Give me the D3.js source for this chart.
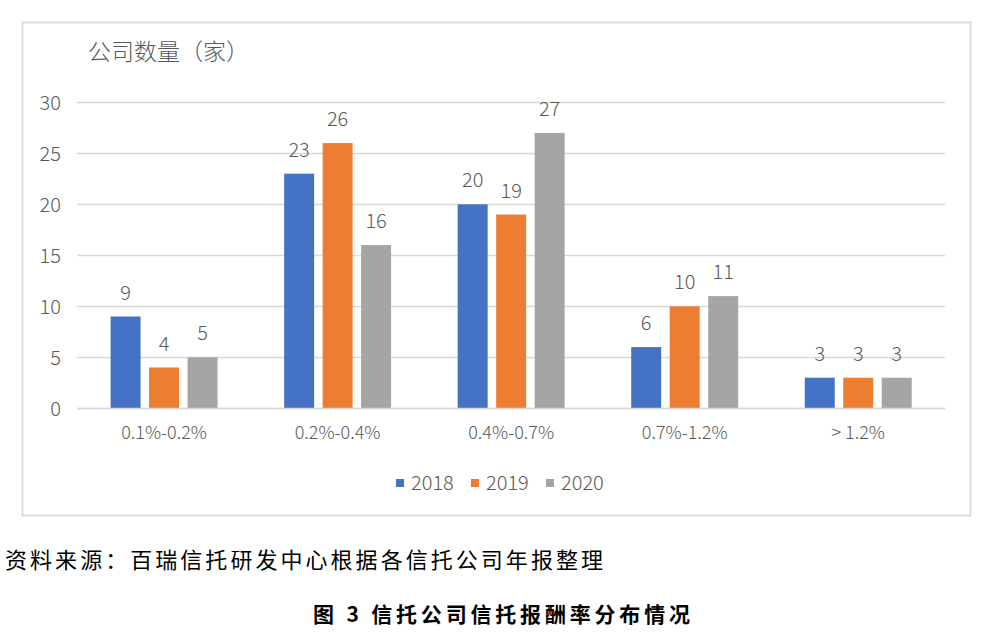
<!DOCTYPE html>
<html><head><meta charset="utf-8">
<script src="https://cdn.jsdelivr.net/npm/d3@7"></script>
<style>
html,body{margin:0;padding:0;background:#fff;}
svg{display:block;}
</style></head>
<body>
<svg id="c" width="990" height="638"></svg>
<script>
const categories = ["0.1%-0.2%", "0.2%-0.4%", "0.4%-0.7%", "0.7%-1.2%", "> 1.2%"];
const years = ["2018", "2019", "2020"];
const values2018 = [9, 23, 20, 6, 3];
const values2019 = [4, 26, 19, 10, 3];
const values2020 = [5, 16, 27, 11, 3];
const yTicks = [0, 5, 10, 15, 20, 25, 30];
const colors = ["#4472C4", "#ED7D31", "#A5A5A5"];
const yTitle = "公司数量（家）";
const sourceText = "资料来源：百瑞信托研发中心根据各信托公司年报整理";
const captionText = "图 3 信托公司信托报酬率分布情况";

const seriesValues = [values2018, values2019, values2020];
const svg = d3.select("#c");
const txt = "#595959";
const font = "'Noto Sans CJK SC', 'Liberation Sans', sans-serif";
const lw = 300;

// frame
svg.append("rect").attr("x", 22.5).attr("y", 22.5).attr("width", 948).attr("height", 493)
  .attr("fill", "#fff").attr("stroke", "#d9d9d9").attr("stroke-width", 1.8);

const x = d3.scaleBand().domain(categories).range([77.3, 945]);
const x1 = d3.scaleBand().domain(years).range([0, x.bandwidth()]).paddingInner(0.221).paddingOuter(0.865);
const y = d3.scaleLinear().domain([0, 30]).range([408.3, 102.3]);

// gridlines
svg.append("g").selectAll("line").data(yTicks).join("line")
  .attr("x1", 77.3).attr("x2", 945)
  .attr("y1", d => Math.round(y(d)) + 0.5).attr("y2", d => Math.round(y(d)) + 0.5)
  .attr("stroke", "#d9d9d9").attr("stroke-width", 1.3);

// y tick labels
svg.append("g").selectAll("text").data(yTicks).join("text")
  .attr("x", 61).attr("y", d => y(d)).attr("dy", "0.36em")
  .attr("text-anchor", "end").attr("fill", txt)
  .style("font-family", font).style("font-size", "20px").style("font-weight", lw)
  .text(d => d);

// y title
svg.append("text").attr("x", 88).attr("y", 60).attr("fill", txt)
  .style("font-family", font).style("font-size", "23px").style("font-weight", lw).text(yTitle);

// bars
years.forEach((yr, si) => {
  const g = svg.append("g");
  g.selectAll("rect").data(categories).join("rect")
    .attr("x", c => x(c) + x1(yr))
    .attr("y", (c, i) => y(seriesValues[si][i]))
    .attr("width", x1.bandwidth())
    .attr("height", (c, i) => y(0) - y(seriesValues[si][i]))
    .attr("fill", colors[si]);
  g.selectAll("text").data(categories).join("text")
    .attr("x", c => x(c) + x1(yr) + x1.bandwidth() / 2)
    .attr("y", (c, i) => y(seriesValues[si][i]) - 17)
    .attr("text-anchor", "middle").attr("fill", txt)
    .style("font-family", font).style("font-size", "20px").style("font-weight", lw)
    .text((c, i) => seriesValues[si][i]);
});

// baseline axis line
svg.append("line").attr("x1", 77.3).attr("x2", 945).attr("y1", Math.round(y(0)) + 0.5).attr("y2", Math.round(y(0)) + 0.5)
  .attr("stroke", "#d9d9d9").attr("stroke-width", 1.3);

// x labels
svg.append("g").selectAll("text").data(categories).join("text")
  .attr("x", c => x(c) + x.bandwidth() / 2).attr("y", 439)
  .attr("text-anchor", "middle").attr("fill", txt)
  .style("font-family", font).style("font-size", "18px").style("font-weight", lw)
  .text(c => c);

// legend
const legX = [396, 471, 546];
years.forEach((yr, i) => {
  svg.append("rect").attr("x", legX[i]).attr("y", 479).attr("width", 8).attr("height", 8).attr("fill", colors[i]);
  svg.append("text").attr("x", legX[i] + 15).attr("y", 483).attr("dy", "0.36em").attr("fill", txt)
    .style("font-family", font).style("font-size", "20px").style("font-weight", lw).text(yr);
});

// source text
svg.append("text").attr("x", 5).attr("y", 568).attr("fill", "#000")
  .attr("textLength", 598).attr("lengthAdjust", "spacing")
  .style("font-family", font).style("font-size", "22px").text(sourceText);

// caption
svg.append("text").attr("x", 313).attr("y", 622).attr("fill", "#000")
  .attr("textLength", 377).attr("lengthAdjust", "spacing")
  .style("font-family", font).style("font-size", "21px").style("font-weight", "bold").text(captionText);
</script>
</body></html>
